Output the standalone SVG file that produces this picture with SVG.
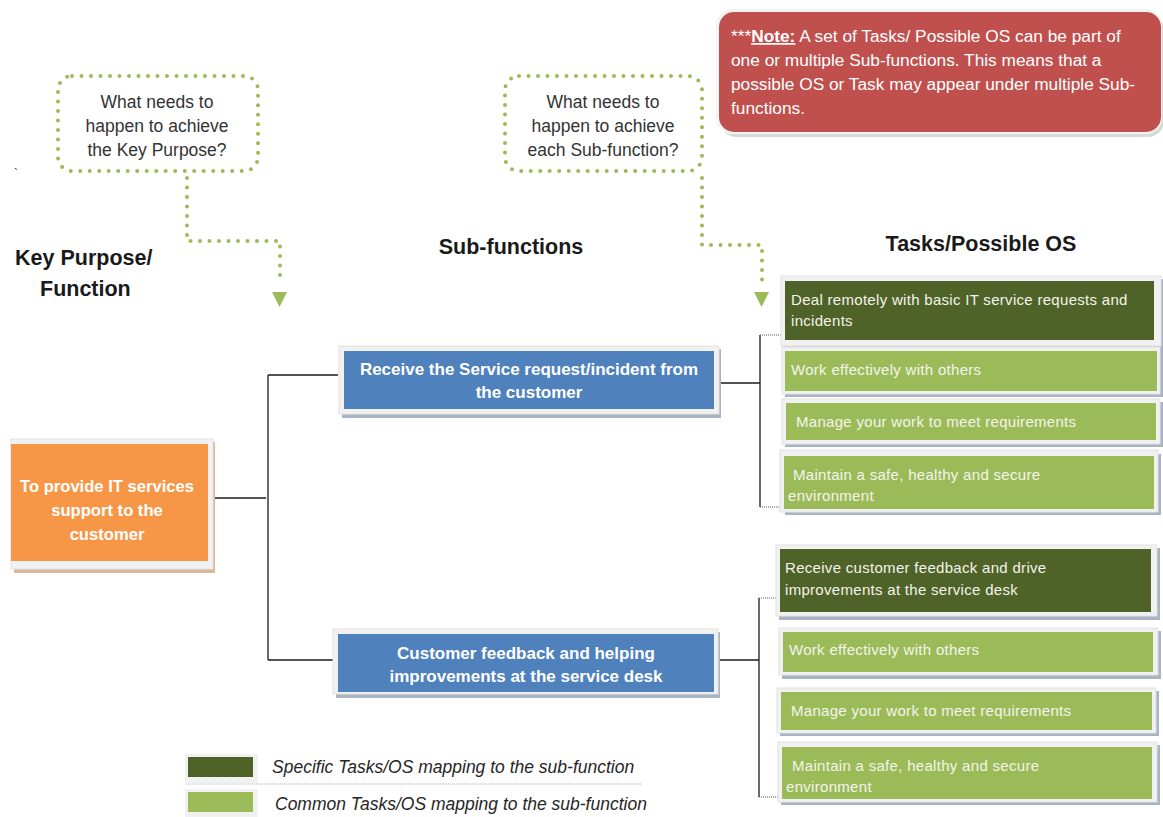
<svg xmlns="http://www.w3.org/2000/svg" width="1163" height="817" viewBox="0 0 1163 817">
<defs>
<style>
.frame{fill:#F1F1F1;stroke:#E2E2E2;stroke-width:1}
.shadow{fill:#A9B4C2}
.orange{fill:#F79646}
.blue{fill:#4F81BD}
.dark{fill:#4F6228}
.light{fill:#9BBB59}
.wb{font-family:"Liberation Sans",Arial,sans-serif;font-weight:bold;fill:#FFFFFF;font-size:17px;text-anchor:middle}
.task{font-family:"Liberation Sans",Arial,sans-serif;fill:#F4F4EC;font-size:15px;letter-spacing:0.3px}
.call{font-family:"Liberation Sans",Arial,sans-serif;fill:#333333;font-size:17.5px;text-anchor:middle}
.head{font-family:"Liberation Sans",Arial,sans-serif;font-weight:bold;fill:#1A1A1A;font-size:21.5px}
.note{font-family:"Liberation Sans",Arial,sans-serif;fill:#FFFFFF;font-size:17.3px}
.leg{font-family:"Liberation Sans",Arial,sans-serif;font-style:italic;fill:#262626;font-size:17.5px}
.dots{fill:none;stroke:#9BBB59;stroke-width:4;stroke-linecap:round;stroke-dasharray:0 9.5}
.conn{fill:none;stroke:#1A1A1A;stroke-width:1.3}
.thin{fill:none;stroke:#555555;stroke-width:1;stroke-dasharray:1 1}
</style>
</defs>
<rect width="1163" height="817" fill="#FFFFFF"/>

<!-- Note -->
<g id="note">
<rect x="720" y="14" width="444" height="123" rx="16" fill="#D9D9D9"/>
<rect x="716" y="9" width="446" height="125" rx="16" fill="#F4F4F4"/>
<rect x="719" y="12" width="442" height="120" rx="15" fill="#C0504D"/>
<text class="note" x="731" y="42">***<tspan font-weight="bold" text-decoration="underline">Note:</tspan> A set of Tasks/ Possible OS can be part of</text>
<text class="note" x="731" y="66">one or multiple Sub-functions. This means that a</text>
<text class="note" x="731" y="90">possible OS or Task may appear under multiple Sub-</text>
<text class="note" x="731" y="114">functions.</text>
</g>

<!-- Callouts -->
<g id="callout1">
<rect x="58" y="76" width="200" height="95" rx="14" class="dots"/>
<text class="call" x="157" y="108">What needs to</text>
<text class="call" x="157" y="132">happen to achieve</text>
<text class="call" x="157" y="156">the Key Purpose?</text>
</g>
<g id="callout2">
<rect x="505" y="76" width="197" height="95" rx="14" class="dots"/>
<text class="call" x="603" y="108">What needs to</text>
<text class="call" x="603" y="132">happen to achieve</text>
<text class="call" x="603" y="156">each Sub-function?</text>
</g>

<text x="14" y="178" font-family="Liberation Sans,Arial,sans-serif" font-size="12" fill="#333">`</text>

<!-- Headers -->
<g id="headers">
<text class="head" x="15" y="265">Key Purpose/</text>
<text class="head" x="40" y="296">Function</text>
<text class="head" x="511" y="254" text-anchor="middle">Sub-functions</text>
<text class="head" x="981" y="251" text-anchor="middle">Tasks/Possible OS</text>
</g>

<!-- Connectors -->
<g id="connectors">
<path class="dots" d="M187 178 V241 H280 V284"/>
<polygon points="272,292 287,292 279.5,307" fill="#9BBB59"/>
<path class="dots" d="M702 178 V245 H762 V284"/>
<polygon points="754,292 769,292 761.5,307" fill="#9BBB59"/>
<path class="conn" d="M213 498 H266"/>
<path class="conn" d="M268 375 V660"/>
<path class="conn" d="M268 375 H338"/>
<path class="conn" d="M268 660 H338"/>
<path class="conn" d="M714 383 H760"/>
<path class="conn" d="M760 335 V507"/>
<path class="thin" d="M760 335 H785"/>
<path class="thin" d="M760 507 H785"/>
<path class="conn" d="M714 660 H759"/>
<path class="conn" d="M759 598 V797"/>
<path class="thin" d="M759 598 H780"/>
<path class="thin" d="M759 797 H782"/>
</g>

<!-- Key purpose -->
<g id="key-purpose">
<rect x="14" y="442" width="201" height="131" style="fill:#D9B69C"/>
<rect x="11" y="439" width="202" height="130" class="frame"/>
<rect x="11" y="444" width="197" height="117" class="orange"/>
<text class="wb" x="107" y="492" style="font-size:16.6px">To provide IT services</text>
<text class="wb" x="107" y="516" style="font-size:16.6px">support to the</text>
<text class="wb" x="107" y="540" style="font-size:16.6px">customer</text>
</g>

<!-- Sub-functions -->
<g id="sub1">
<rect x="342" y="349" width="379" height="69" class="shadow"/>
<rect x="339" y="346" width="380" height="68" class="frame"/>
<rect x="344" y="351" width="370" height="58" class="blue"/>
<text class="wb" x="529" y="375">Receive the Service request/incident from</text>
<text class="wb" x="529" y="398">the customer</text>
</g>
<g id="sub2">
<rect x="336" y="632" width="384" height="66" class="shadow"/>
<rect x="333" y="629" width="385" height="65" class="frame"/>
<rect x="338" y="634" width="376" height="58" class="blue"/>
<text class="wb" x="526" y="659">Customer feedback and helping</text>
<text class="wb" x="526" y="682">improvements at the service desk</text>
</g>

<!-- Tasks group 1 -->
<g id="task1-1">
<rect x="784" y="279" width="380" height="71" class="shadow"/>
<rect x="781" y="276" width="380" height="70" class="frame"/>
<rect x="785" y="281" width="369" height="59" class="dark"/>
<text class="task" x="791" y="305">Deal remotely with basic IT service requests and</text>
<text class="task" x="791" y="326">incidents</text>
</g>
<g id="task1-2">
<rect x="785" y="350" width="378" height="47" class="shadow"/>
<rect x="782" y="347" width="378" height="47" class="frame"/>
<rect x="785" y="351" width="372" height="40" class="light"/>
<text class="task" x="791" y="375">Work effectively with others</text>
</g>
<g id="task1-3">
<rect x="785" y="402" width="378" height="45" class="shadow"/>
<rect x="782" y="399" width="378" height="45" class="frame"/>
<rect x="786" y="403" width="370" height="37" class="light"/>
<text class="task" x="796" y="427">Manage your work to meet requirements</text>
</g>
<g id="task1-4">
<rect x="785" y="454" width="376" height="61" class="shadow"/>
<rect x="780" y="450" width="378" height="62" class="frame"/>
<rect x="784" y="456" width="370" height="53" class="light"/>
<text class="task" x="793" y="480">Maintain a safe, healthy and secure</text>
<text class="task" x="788" y="501">environment</text>
</g>

<!-- Tasks group 2 -->
<g id="task2-1">
<rect x="779" y="548" width="381" height="72" class="shadow"/>
<rect x="776" y="545" width="381" height="71" class="frame"/>
<rect x="780" y="549" width="371" height="63" class="dark"/>
<text class="task" x="785" y="573">Receive customer feedback and drive</text>
<text class="task" x="785" y="595">improvements at the service desk</text>
</g>
<g id="task2-2">
<rect x="782" y="631" width="379" height="48" class="shadow"/>
<rect x="779" y="628" width="379" height="47" class="frame"/>
<rect x="783" y="632" width="370" height="40" class="light"/>
<text class="task" x="789" y="655">Work effectively with others</text>
</g>
<g id="task2-3">
<rect x="780" y="691" width="379" height="45" class="shadow"/>
<rect x="777" y="688" width="379" height="45" class="frame"/>
<rect x="781" y="692" width="371" height="38" class="light"/>
<text class="task" x="791" y="716">Manage your work to meet requirements</text>
</g>
<g id="task2-4">
<rect x="781" y="745" width="379" height="60" class="shadow"/>
<rect x="778" y="742" width="379" height="60" class="frame"/>
<rect x="782" y="747" width="370" height="52" class="light"/>
<text class="task" x="792" y="771">Maintain a safe, healthy and secure</text>
<text class="task" x="786" y="792">environment</text>
</g>

<!-- Legend -->
<g id="legend">
<rect x="185" y="754" width="73" height="29" fill="#F1F1F1"/>
<rect x="188" y="757" width="65" height="20" class="dark"/>
<rect x="185" y="789" width="73" height="28" fill="#F1F1F1"/>
<rect x="188" y="792" width="65" height="20" class="light"/>
<path d="M186 784 H641" stroke="#AAAAAA" stroke-width="1" stroke-dasharray="1 1" fill="none"/>
<text class="leg" x="272" y="773">Specific Tasks/OS mapping to the sub-function</text>
<text class="leg" x="275" y="810">Common Tasks/OS mapping to the sub-function</text>
</g>
</svg>
